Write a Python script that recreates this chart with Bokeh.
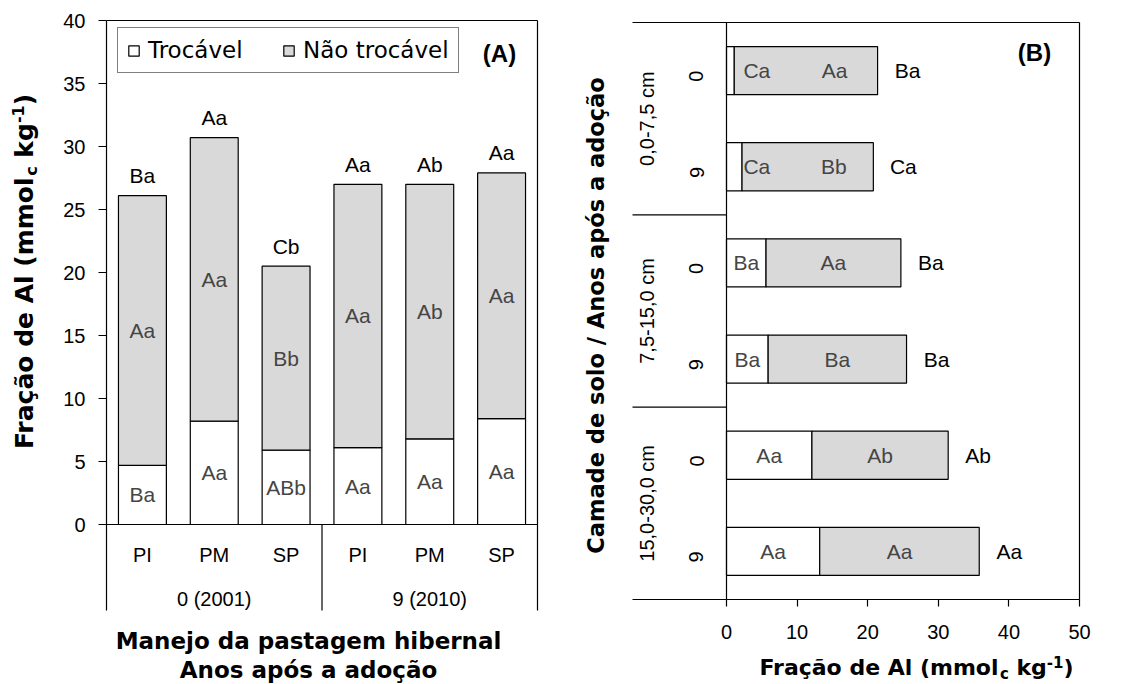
import math
from bokeh.plotting import figure
from bokeh.layouts import row
from bokeh.models import Range1d, FixedTicker, Label, Legend, LegendItem, ColumnDataSource
from bokeh.embed import file_html
from bokeh.resources import INLINE
from bokeh.core.properties import value

# ---------------- data: panel A ----------------
cats_a = ["PI", "PM", "SP", "PI", "PM", "SP"]
groups_a = ["0 (2001)", "9 (2010)"]
troc_a = [4.7, 8.2, 5.9, 6.1, 6.8, 8.4]          # Trocável
total_a = [26.1, 30.7, 20.5, 27.0, 27.0, 27.9]   # Trocável + Não trocável
lab_troc_a = ["Ba", "Aa", "ABb", "Aa", "Aa", "Aa"]
lab_nt_a = ["Aa", "Aa", "Bb", "Aa", "Ab", "Aa"]
lab_tot_a = ["Ba", "Aa", "Cb", "Aa", "Ab", "Aa"]
yticks_a = [0, 5, 10, 15, 20, 25, 30, 35, 40]

# ---------------- data: panel B ----------------
layers_b = ["0,0-7,5 cm", "7,5-15,0 cm", "15,0-30,0 cm"]
years_b = ["0", "9", "0", "9", "0", "9"]
troc_b = [1.1, 2.2, 5.6, 5.9, 12.1, 13.2]
total_b = [21.4, 20.8, 24.7, 25.5, 31.4, 35.8]
lab_troc_b = ["Ca", "Ca", "Ba", "Ba", "Aa", "Aa"]
lab_nt_b = ["Aa", "Bb", "Aa", "Ba", "Ab", "Aa"]
lab_tot_b = ["Ba", "Ca", "Ba", "Ba", "Ab", "Aa"]
xticks_b = [0, 10, 20, 30, 40, 50]

legend_labels = ["Trocável", "Não trocável"]

# ---------------- style / geometry ----------------
TF = "Liberation Sans"
HF = "DejaVu Sans"
GREY = "#d9d9d9"
INNER = "#454545"
LW = 1.2

W_A, W_B, H = 566, 560, 684

# panel A plot box (page px) and data extent
A_BOX = (106, 537, 20, 524)          # left, right, top, bottom
A_XD = (0.5, 6.5)
A_YD = (0, 40)
a_px = (A_BOX[1] - A_BOX[0]) / (A_XD[1] - A_XD[0])
a_py = (A_BOX[3] - A_BOX[2]) / (A_YD[1] - A_YD[0])
def ax(px): return A_XD[0] + (px - A_BOX[0]) / a_px
def ay(py): return A_YD[0] + (A_BOX[3] - py) / a_py

# panel B plot box (page px); figure B starts at page x = W_A
B_BOX = (726, 1079, 22, 599)
B_XD = (0, 50)
B_YD = (0.5, 6.5)                    # top -> bottom
b_px = (B_BOX[1] - B_BOX[0]) / (B_XD[1] - B_XD[0])
b_py = (B_BOX[3] - B_BOX[2]) / (B_YD[1] - B_YD[0])
def bx(px): return B_XD[0] + (px - B_BOX[0]) / b_px
def by(py): return B_YD[0] + (py - B_BOX[2]) / b_py

WID = {' ': .348, 'a': .675, 'ã': .675, 'c': .593, 'ç': .593, 'd': .716, 'e': .678,
       'g': .716, 'k': .665, 'l': .343, 'm': 1.042, 'o': .687, 'r': .493, 'A': .774,
       'F': .683, '(': .457, ')': .457, '-': .416, '1': .696}
def tw(s, size):
    return sum(WID.get(ch, .6) for ch in s) * size

def title_runs(fs):
    sub = round(fs * 0.66)
    # (text, size, centre shift px (up +) relative to main text centre, gap px before)
    return [("Fração de Al (mmol", fs, 0, 0), ("c", sub, -0.28 * fs, 0),
            ("kg", fs, 0, WID[' '] * fs), ("-1", sub, 0.25 * fs, 0), (")", fs, 0, 0)]

def runs_len(runs):
    return sum(tw(t, s) + g for t, s, _, g in runs)

def place_runs(p, runs, sx, sy, along, perp, angle):
    pos = 0.0
    for t, s, sh, gap in runs:
        pos += gap
        x = sx + pos * along[0] + sh * perp[0]
        y = sy + pos * along[1] + sh * perp[1]
        p.add_layout(Label(x=x, y=y, text=t, angle=angle, text_font=HF,
                           text_font_size=f"{s}px", text_font_style="bold",
                           text_align="left", text_baseline="middle", text_color="black"))
        pos += tw(t, s)

def style_common(p):
    p.grid.grid_line_color = None
    p.outline_line_color = None
    p.background_fill_color = "white"
    p.border_fill_color = "white"
    for a in p.axis:
        a.axis_line_color = "black"
        a.axis_line_width = LW
        a.major_tick_line_color = "black"
        a.major_tick_line_width = LW
        a.minor_tick_line_color = None
        a.major_label_text_font = TF
        a.major_label_text_font_size = "20px"
        a.major_label_text_color = "black"

# ================= Panel A =================
pA = figure(width=W_A, height=H,
            x_range=Range1d(ax(0), ax(W_A)), y_range=Range1d(ay(H), ay(0)),
            output_backend="svg", toolbar_location=None, title=None,
            min_border=0, min_border_left=0, min_border_right=0,
            min_border_top=0, min_border_bottom=0)
style_common(pA)

xs_a = list(range(1, len(cats_a) + 1))
src_a = ColumnDataSource(dict(
    x=xs_a, troc=troc_a, total=total_a,
    mid_t=[t / 2 for t in troc_a],
    mid_n=[(t + s) / 2 for t, s in zip(troc_a, total_a)],
    lt=lab_troc_a, ln=lab_nt_a, ltot=lab_tot_a))

sep_a = ay(610)   # depth of category separators
pA.segment(x0=[A_XD[0], A_XD[1], 3.5], y0=[A_YD[1], A_YD[1], A_YD[0]],
           x1=[A_XD[1], A_XD[1], 3.5], y1=[A_YD[1], sep_a, sep_a],
           line_color="black", line_width=LW)

r_white = pA.vbar(x="x", width=0.667, bottom=0, top="troc", source=src_a,
                  fill_color="white", line_color="black", line_width=LW)
r_grey = pA.vbar(x="x", width=0.667, bottom="troc", top="total", source=src_a,
                 fill_color=GREY, line_color="black", line_width=LW)

pA.text(x="x", y="mid_t", text="lt", source=src_a, text_align="center", text_baseline="middle",
        text_font=value(TF), text_font_size="21px", text_color=INNER)
pA.text(x="x", y="mid_n", text="ln", source=src_a, text_align="center", text_baseline="middle",
        text_font=value(TF), text_font_size="21px", text_color=INNER)
pA.text(x="x", y="total", text="ltot", source=src_a, y_offset=-20, text_align="center",
        text_baseline="middle", text_font=value(TF), text_font_size="21px", text_color="black")

ya = pA.yaxis[0]
ya.fixed_location = A_XD[0]
ya.bounds = (sep_a, A_YD[1])
ya.ticker = FixedTicker(ticks=yticks_a, minor_ticks=[])
ya.major_tick_out = 8
ya.major_tick_in = 0
ya.major_label_standoff = 13

xa = pA.xaxis[0]
xa.fixed_location = A_YD[0]
xa.bounds = A_XD
xa.ticker = FixedTicker(ticks=xs_a, minor_ticks=[])
xa.major_label_overrides = {x: c for x, c in zip(xs_a, cats_a)}
xa.major_tick_out = 0
xa.major_tick_in = 0
xa.major_tick_line_color = None
xa.major_label_standoff = 19

for i, g in enumerate(groups_a):
    pA.add_layout(Label(x=2 + 3 * i, y=ay(598), text=g, text_align="center", text_baseline="middle",
                        text_font=TF, text_font_size="20px", text_color="black"))

for txt, py in (("Manejo da pastagem hibernal", 640), ("Anos após a adoção", 669)):
    pA.add_layout(Label(x=ax(308), y=ay(py), text=txt, text_align="center",
                        text_baseline="middle", text_font=HF, text_font_size="23px",
                        text_font_style="bold", text_color="black"))

runsA = title_runs(25)
LA = runs_len(runsA)
place_runs(pA, runsA, ax(24), ay(271) - (LA / 2) / a_py,
           along=(0, 1 / a_py), perp=(-1 / a_px, 0), angle=math.pi / 2)

pA.add_layout(Label(x=ax(499), y=ay(53), text="(A)", text_align="center", text_baseline="middle",
                    text_font=TF, text_font_size="24px", text_font_style="bold", text_color="black"))

legend = Legend(items=[LegendItem(label=legend_labels[0], renderers=[r_white]),
                       LegendItem(label=legend_labels[1], renderers=[r_grey])],
                location=(117, H - 73), orientation="horizontal",
                glyph_width=13, glyph_height=13, label_standoff=8, label_width=113, label_height=24,
                spacing=21, padding=9, margin=0,
                label_text_font=HF, label_text_font_size="23px", label_text_color="black",
                border_line_color="black", border_line_width=LW,
                background_fill_color="white", background_fill_alpha=1.0)
pA.add_layout(legend)

# ================= Panel B =================
pB = figure(width=W_B, height=H,
            x_range=Range1d(bx(W_A), bx(W_A + W_B)), y_range=Range1d(by(H), by(0)),
            output_backend="svg", toolbar_location=None, title=None,
            min_border=0, min_border_left=0, min_border_right=0,
            min_border_top=0, min_border_bottom=0)
style_common(pB)

ys_b = list(range(1, len(years_b) + 1))
narrow = [t < 3 for t in troc_b]
src_b = ColumnDataSource(dict(
    y=ys_b, troc=troc_b, total=total_b,
    xt=[4.3 if n else t / 2 for t, n in zip(troc_b, narrow)],
    xn=[(t + 0.7 * (s - t)) if n else (t + s) / 2 for t, s, n in zip(troc_b, total_b, narrow)],
    lt=lab_troc_b, ln=lab_nt_b, ltot=lab_tot_b))

sep_b = bx(632)
seps_y = [0.5, 2.5, 4.5, 6.5]
pB.segment(x0=[sep_b] * 4 + [B_XD[1]], y0=seps_y + [B_YD[0]],
           x1=[B_XD[1], B_XD[0], B_XD[0], B_XD[0], B_XD[1]], y1=seps_y + [B_YD[1]],
           line_color="black", line_width=LW)

pB.hbar(y="y", height=0.5, left=0, right="troc", source=src_b,
        fill_color="white", line_color="black", line_width=LW)
pB.hbar(y="y", height=0.5, left="troc", right="total", source=src_b,
        fill_color=GREY, line_color="black", line_width=LW)

pB.text(x="xt", y="y", text="lt", source=src_b, text_align="center", text_baseline="middle",
        text_font=value(TF), text_font_size="21px", text_color=INNER)
pB.text(x="xn", y="y", text="ln", source=src_b, text_align="center", text_baseline="middle",
        text_font=value(TF), text_font_size="21px", text_color=INNER)
pB.text(x="total", y="y", text="ltot", source=src_b, x_offset=30, text_align="center",
        text_baseline="middle", text_font=value(TF), text_font_size="21px", text_color="black")

xb = pB.xaxis[0]
xb.fixed_location = B_YD[1]
xb.bounds = B_XD
xb.ticker = FixedTicker(ticks=xticks_b, minor_ticks=[])
xb.major_tick_out = 7
xb.major_tick_in = 0
xb.major_label_standoff = 18

yb = pB.yaxis[0]
yb.fixed_location = B_XD[0]
yb.bounds = B_YD
yb.ticker = FixedTicker(ticks=ys_b, minor_ticks=[])
yb.major_label_overrides = {y: t for y, t in zip(ys_b, years_b)}
yb.major_tick_out = 0
yb.major_tick_in = 0
yb.major_tick_line_color = None
yb.major_label_orientation = math.pi / 2
yb.major_label_standoff = 30

for i, lay in enumerate(layers_b):
    pB.add_layout(Label(x=bx(646), y=1.5 + 2 * i, text=lay, angle=math.pi / 2,
                        text_align="center", text_baseline="middle",
                        text_font=TF, text_font_size="20px", text_color="black"))

pB.add_layout(Label(x=bx(595), y=by(315), text="Camade de solo / Anos após a adoção",
                    angle=math.pi / 2, text_align="center", text_baseline="middle",
                    text_font=HF, text_font_size="22.5px", text_font_style="bold", text_color="black"))

runsB = title_runs(22)
LB = runs_len(runsB)
place_runs(pB, runsB, bx(916 - LB / 2), by(667),
           along=(1 / b_px, 0), perp=(0, -1 / b_py), angle=0)

pB.add_layout(Label(x=bx(1034), y=by(52), text="(B)", text_align="center", text_baseline="middle",
                    text_font=TF, text_font_size="24px", text_font_style="bold", text_color="black"))

layout = row(pA, pB, spacing=0)
open("out.html", "w").write(file_html(layout, INLINE))
